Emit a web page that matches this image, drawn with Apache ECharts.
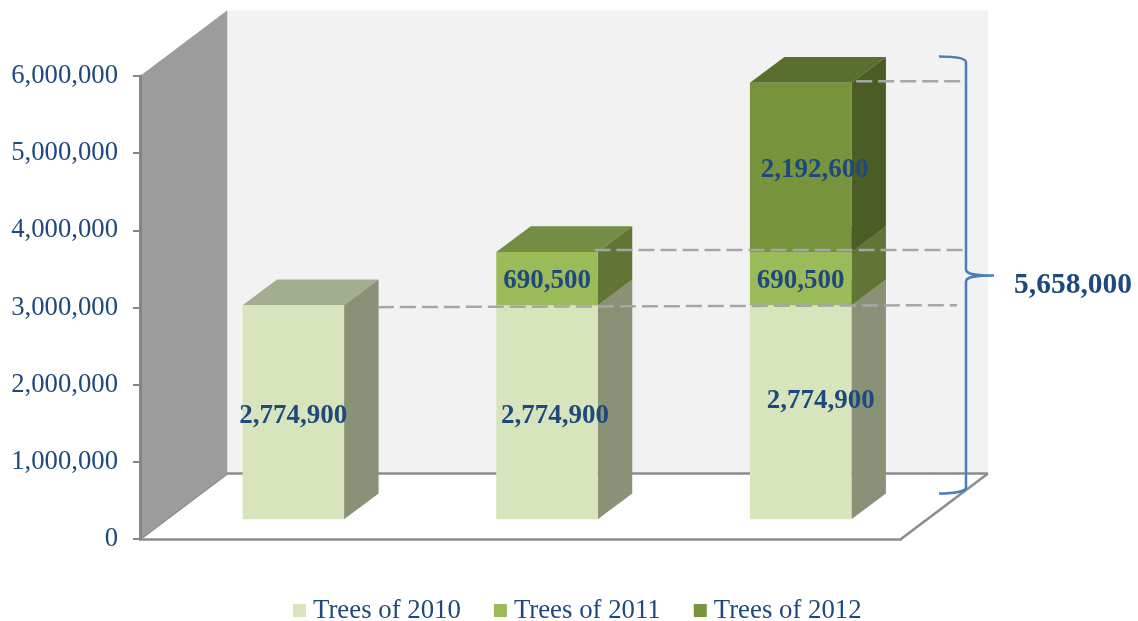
<!DOCTYPE html>
<html>
<head>
<meta charset="utf-8">
<title>Trees planted</title>
<style>html,body{margin:0;padding:0;background:#fff}#chart{width:1138px;height:621px}</style>
<script src="https://cdn.jsdelivr.net/npm/echarts@6/dist/echarts.min.js"></script>
</head>
<body>
<div id="chart"></div>
<script>
// Chart values
const categories = ['2010', '2011', '2012'];
const trees2010 = [2774900, 2774900, 2774900];
const trees2011 = [null, 690500, 690500];
const trees2012 = [null, null, 2192600];
const grandTotal = 5658000;
const yTicks = { min: 0, max: 6000000, interval: 1000000 };

// Label nudges in pixels from the centre of each front face, per category
const nudge2010 = [[0, 4], [8, 4], [20, -11]];
const nudge2011 = [[0, 0], [0, 3], [0, 3]];
const nudge2012 = [[0, 0], [0, 0], [14, 3]];

// Projection of the box: how far the walls and the bars recede on screen
const WALL_DEPTH = [87, -65.5];
const BAR_INSET = [26.5, -19.7];
const BAR_DEPTH = [34.5, -25.7];
const BAR_WIDTH = 101.5;

const INK = '#1f497d';
const SERIF = '"Liberation Serif", "Times New Roman", serif';
const fmt = v => v.toLocaleString('en-US');

function poly(points, fill, z2, stroke) {
  return { type: 'polygon', z2: z2 || 0, shape: { points },
    style: { fill, stroke: stroke || null, lineWidth: stroke ? 1 : 0 } };
}
function seg(a, b, stroke, lineWidth, lineDash) {
  return { type: 'line', shape: { x1: a[0], y1: a[1], x2: b[0], y2: b[1] },
    style: { stroke, lineWidth, lineDash: lineDash || null, fill: null } };
}

// Left wall, back wall and floor of the chart box
function renderRoom(params, api) {
  const g = params.coordSys;
  const [dx, dy] = WALL_DEPTH;
  const l = g.x, r = g.x + g.width, t = g.y, b = g.y + g.height;
  return { type: 'group', children: [
    poly([[l + dx, t + dy], [r + dx, t + dy], [r + dx, b + dy], [l + dx, b + dy]], '#f2f2f2'),
    poly([[l, t], [l + dx, t + dy], [l + dx, b + dy], [l, b]], '#9c9c9c', 1),
    seg([l + dx, t + dy], [l + dx, b + dy], '#c4c4c4', 1),
    seg([l + dx, b + dy], [r + dx, b + dy], '#8c8c8c', 2.5),
    seg([l, b], [l + dx, b + dy], '#8c8c8c', 2.5),
    seg([r, b], [r + dx, b + dy], '#8c8c8c', 2.5)
  ] };
}

// One stacked segment drawn as a box: front, top and right faces plus its label
function boxRenderer(faces, nudges) {
  return function (params, api) {
    const val = api.value(2);
    if (val == null || isNaN(val)) return null;
    const idx = api.value(0);
    const base = api.coord([idx, api.value(1)]);
    const top = api.coord([idx, api.value(1) + val]);
    const xl = base[0] + BAR_INSET[0] - BAR_WIDTH / 2;
    const xr = xl + BAR_WIDTH;
    const yb = base[1] + BAR_INSET[1];
    const yt = top[1] + BAR_INSET[1];
    const [dx, dy] = BAR_DEPTH;
    const n = nudges[idx];
    return { type: 'group', children: [
      poly([[xl, yt], [xr, yt], [xr + dx, yt + dy], [xl + dx, yt + dy]], faces.top),
      poly([[xr, yb], [xr + dx, yb + dy], [xr + dx, yt + dy], [xr, yt]], faces.side),
      poly([[xl, yb], [xr, yb], [xr, yt], [xl, yt]], faces.front),
      { type: 'text', z2: 5, style: {
        text: fmt(val), x: (xl + xr) / 2 + n[0], y: (yb + yt) / 2 + n[1],
        align: 'center', verticalAlign: 'middle',
        fontFamily: SERIF, fontWeight: 'bold', fontSize: 27, fill: INK } }
    ] };
  };
}

// Dashed leaders running from the bars across to the brace
const leaderLevels = [trees2010[0], trees2010[1] + trees2011[1], grandTotal];
const leaderFrom = [[0, 111, 2], [1, 74, -2], [2, 82, -1.5]];
const leaderEnd = [56, 62, 61];
function renderLeaders(params, api) {
  const i = api.value(0);
  const g = params.coordSys;
  const [cat, startX, lift] = leaderFrom[i];
  const level = leaderLevels[i];
  const p = api.coord([cat, level]);
  const y = p[1] + BAR_INSET[1] + lift;
  const yEnd = i === 0 ? y - 2 : y;
  return seg([p[0] + startX, y], [g.x + g.width + leaderEnd[i], yEnd], '#a6a6a6', 2.5, [16, 6]);
}

// Curly brace gathering the three segments of the tallest bar, with their total
function renderBrace(params, api) {
  const g = params.coordSys;
  const x = g.x + g.width + 38;
  return { type: 'group', children: [
    { type: 'path', shape: { x, y: 56.5, width: 55, height: 437, layout: 'cover',
        pathData: 'M0 0 C14 0 27 1 27 6 L27 213 C27 217 33 219 55 219 C33 219 27 221 27 225 L27 431 C27 435 14 437 0 437' },
      style: { fill: null, stroke: '#4a7ebb', lineWidth: 2.5 } },
    { type: 'text', style: { text: fmt(grandTotal), x: 1073, y: 285,
        align: 'center', verticalAlign: 'middle',
        fontFamily: SERIF, fontWeight: 'bold', fontSize: 29.5, fill: INK } }
  ] };
}

function boxSeries(name, faces, stack, values, nudges) {
  return {
    name, type: 'custom', z: 2, coordinateSystem: 'cartesian2d',
    itemStyle: { color: faces.front },
    renderItem: boxRenderer(faces, nudges),
    dimensions: ['idx', 'base', 'val'],
    encode: { x: 0, y: 2 },
    data: categories.map((c, i) => [i, stack[i], values[i] == null ? NaN : values[i]]),
    silent: true
  };
}

const base2011 = trees2010;
const base2012 = trees2010.map((v, i) => v + (trees2011[i] || 0));
const noStack = categories.map(() => 0);

const option = {
  animation: false,
  backgroundColor: '#fff',
  grid: { left: 140, width: 761, top: 76, height: 463 },
  xAxis: {
    type: 'category', data: categories,
    axisLine: { show: true, lineStyle: { color: '#8c8c8c', width: 2.5 } },
    axisTick: { show: false }, axisLabel: { show: false }, splitLine: { show: false }
  },
  yAxis: {
    type: 'value', min: yTicks.min, max: yTicks.max, interval: yTicks.interval,
    axisLine: { show: true, lineStyle: { color: '#868686', width: 3 } },
    axisTick: { show: true, length: 7, lineStyle: { color: '#868686', width: 2 } },
    splitLine: { show: false },
    axisLabel: { color: INK, fontFamily: SERIF, fontSize: 26.7, margin: 22,
      padding: [2, 0, 0, 0], formatter: v => fmt(v) }
  },
  legend: {
    left: 288, top: 592, itemWidth: 13, itemHeight: 13, itemGap: 33, icon: 'rect',
    textStyle: { color: INK, fontFamily: SERIF, fontSize: 26.8, padding: [0, 0, 0, 2] },
    data: ['Trees of 2010', 'Trees of 2011', 'Trees of 2012']
  },
  series: [
    { type: 'custom', z: -1, silent: true, renderItem: renderRoom, data: [[0, 0]], encode: { x: 0, y: 1 } },
    boxSeries('Trees of 2010', { front: '#d7e4bc', side: '#899177', top: '#a3ad8f' }, noStack, trees2010, nudge2010),
    boxSeries('Trees of 2011', { front: '#9bbb59', side: '#637534', top: '#748c43' }, base2011, trees2011, nudge2011),
    boxSeries('Trees of 2012', { front: '#77933c', side: '#4b5c25', top: '#5a6e2e' }, base2012, trees2012, nudge2012),
    { type: 'custom', z: 3, silent: true, renderItem: renderLeaders,
      data: leaderLevels.map((v, i) => [i, v]), encode: { x: 0, y: 1 } },
    { type: 'custom', z: 4, silent: true, renderItem: renderBrace, data: [[0, grandTotal]], encode: { x: 0, y: 1 } }
  ]
};

echarts.init(document.getElementById('chart'), null, { renderer: 'canvas' }).setOption(option);
</script>
</body>
</html>
